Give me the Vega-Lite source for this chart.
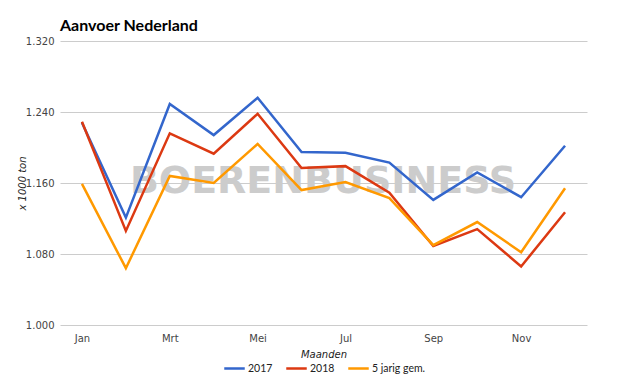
{
  "$schema": "https://vega.github.io/schema/vega-lite/v6.json",
  "width": 527,
  "height": 284,
  "autosize": "none",
  "padding": {"left": 60, "top": 41, "right": 38, "bottom": 62},
  "background": "white",
  "title": {
    "text": "Aanvoer Nederland",
    "anchor": "start",
    "frame": "group",
    "font": "Lato",
    "fontSize": 16,
    "fontWeight": "bold",
    "color": "#000000",
    "baseline": "alphabetic",
    "offset": 6,
    "dy": 17
  },
  "config": {
    "view": {"stroke": null},
    "font": "DejaVu Sans"
  },
  "datasets": {
    "watermark": [{"label": "BOERENBUSINESS", "maand": "Feb", "waarde": 1149}],
    "aanvoer": [
      {"maand": "Jan", "serie": "2017", "waarde": 1228},
      {"maand": "Feb", "serie": "2017", "waarde": 1121},
      {"maand": "Mrt", "serie": "2017", "waarde": 1249},
      {"maand": "Apr", "serie": "2017", "waarde": 1214},
      {"maand": "Mei", "serie": "2017", "waarde": 1256},
      {"maand": "Jun", "serie": "2017", "waarde": 1195},
      {"maand": "Jul", "serie": "2017", "waarde": 1194},
      {"maand": "Aug", "serie": "2017", "waarde": 1183},
      {"maand": "Sep", "serie": "2017", "waarde": 1141},
      {"maand": "Okt", "serie": "2017", "waarde": 1172},
      {"maand": "Nov", "serie": "2017", "waarde": 1144},
      {"maand": "Dec", "serie": "2017", "waarde": 1202},
      {"maand": "Jan", "serie": "2018", "waarde": 1229},
      {"maand": "Feb", "serie": "2018", "waarde": 1106},
      {"maand": "Mrt", "serie": "2018", "waarde": 1216},
      {"maand": "Apr", "serie": "2018", "waarde": 1193},
      {"maand": "Mei", "serie": "2018", "waarde": 1238},
      {"maand": "Jun", "serie": "2018", "waarde": 1177},
      {"maand": "Jul", "serie": "2018", "waarde": 1179},
      {"maand": "Aug", "serie": "2018", "waarde": 1149},
      {"maand": "Sep", "serie": "2018", "waarde": 1089},
      {"maand": "Okt", "serie": "2018", "waarde": 1108},
      {"maand": "Nov", "serie": "2018", "waarde": 1066},
      {"maand": "Dec", "serie": "2018", "waarde": 1127},
      {"maand": "Jan", "serie": "5 jarig gem.", "waarde": 1159},
      {"maand": "Feb", "serie": "5 jarig gem.", "waarde": 1064},
      {"maand": "Mrt", "serie": "5 jarig gem.", "waarde": 1168},
      {"maand": "Apr", "serie": "5 jarig gem.", "waarde": 1160},
      {"maand": "Mei", "serie": "5 jarig gem.", "waarde": 1204},
      {"maand": "Jun", "serie": "5 jarig gem.", "waarde": 1152},
      {"maand": "Jul", "serie": "5 jarig gem.", "waarde": 1161},
      {"maand": "Aug", "serie": "5 jarig gem.", "waarde": 1143},
      {"maand": "Sep", "serie": "5 jarig gem.", "waarde": 1090},
      {"maand": "Okt", "serie": "5 jarig gem.", "waarde": 1116},
      {"maand": "Nov", "serie": "5 jarig gem.", "waarde": 1082},
      {"maand": "Dec", "serie": "5 jarig gem.", "waarde": 1154}
    ]
  },
  "encoding": {
    "x": {
      "field": "maand",
      "type": "ordinal",
      "sort": ["Jan", "Feb", "Mrt", "Apr", "Mei", "Jun", "Jul", "Aug", "Sep", "Okt", "Nov", "Dec"],
      "scale": {"type": "point", "padding": 0.5},
      "axis": {
        "values": ["Jan", "Mrt", "Mei", "Jul", "Sep", "Nov"],
        "title": "Maanden",
        "titleFontStyle": "italic",
        "titleFontWeight": "normal",
        "titleFontSize": 10,
        "titleColor": "#222222",
        "titlePadding": 6,
        "labelAngle": 0,
        "labelFontSize": 10,
        "labelColor": "#444444",
        "labelPadding": 8,
        "ticks": false,
        "domain": false,
        "grid": false
      }
    },
    "y": {
      "field": "waarde",
      "type": "quantitative",
      "scale": {"domain": [1000, 1320], "nice": false, "zero": false},
      "axis": {
        "values": [1000, 1080, 1160, 1240, 1320],
        "labelExpr": "replace(format(datum.value, ',.0f'), ',', '.')",
        "title": "x 1000 ton",
        "titleFontStyle": "italic",
        "titleFontWeight": "normal",
        "titleFontSize": 10,
        "titleColor": "#222222",
        "titlePadding": -2,
        "labelFontSize": 10,
        "labelColor": "#444444",
        "labelPadding": 6,
        "ticks": false,
        "domain": false,
        "grid": true,
        "gridColor": "#cccccc",
        "gridWidth": 1
      }
    }
  },
  "layer": [
    {
      "data": {"name": "watermark"},
      "mark": {
        "type": "text",
        "align": "left",
        "baseline": "alphabetic",
        "dx": 4,
        "font": "DejaVu Sans",
        "fontWeight": "bold",
        "fontSize": 38,
        "color": "#cccccc"
      },
      "encoding": {
        "text": {"field": "label"}
      }
    },
    {
      "data": {"name": "aanvoer"},
      "mark": {"type": "line", "strokeWidth": 2.5},
      "encoding": {
        "color": {
          "field": "serie",
          "type": "nominal",
          "scale": {
            "domain": ["2017", "2018", "5 jarig gem."],
            "range": ["#3366cc", "#dc3912", "#ff9900"]
          },
          "legend": {
            "orient": "none",
            "legendX": 163,
            "legendY": 316,
            "direction": "horizontal",
            "title": null,
            "symbolType": "stroke",
            "symbolSize": 420,
            "symbolStrokeWidth": 2.5,
            "labelFont": "Lato",
            "labelFontSize": 10.5,
            "labelOffset": 2,
            "labelColor": "#222222",
            "columnPadding": 8
          }
        }
      }
    }
  ]
}
